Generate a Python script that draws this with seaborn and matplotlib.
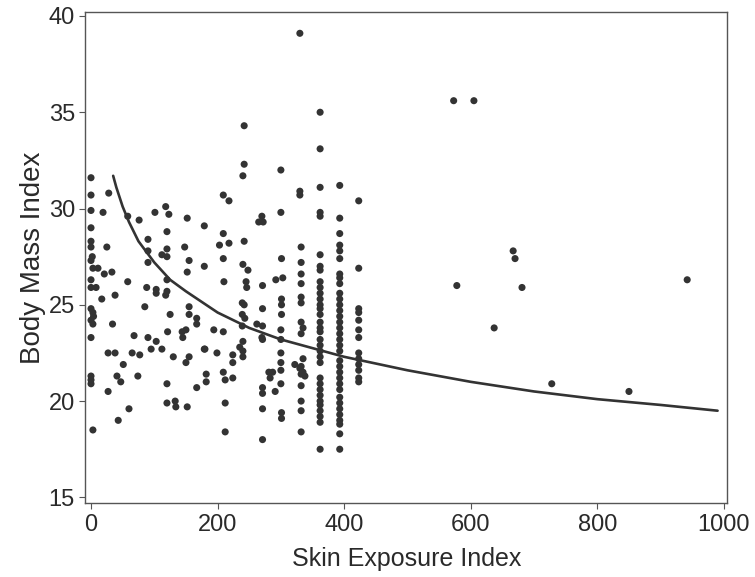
import matplotlib
matplotlib.use('Agg')
import matplotlib.pyplot as plt
import pandas as pd
import seaborn as sns

# Scatter data: skin exposure index vs body mass index
ski = [
    0, 0, 0, 0, 0, 0, 2, 0, 3, 0, 0, 8, 0, 3, 4, 0, 3, 0, 0, 0, 0, 3,
    28, 19, 25, 11, 21, 33, 17, 38, 34, 27, 38, 41, 47, 27, 43, 51, 60,
    58, 76, 90, 101, 118, 123, 120, 152, 148, 179,
    209, 218, 209, 203, 218,
    120, 90, 112, 120, 155, 90, 58, 120, 152, 179,
    88, 103, 103, 120, 118, 85, 155, 125, 155, 167, 167, 68, 90, 103, 121, 144, 150, 145,
    95, 112, 65, 77, 130, 179, 155, 150, 74, 182, 182, 120, 167, 120, 133, 134, 152,
    209, 210, 209, 199, 194, 180, 224, 224, 209, 212, 224, 212, 212,
    242, 242, 240, 242, 240, 248, 245, 246, 239, 242, 239, 243, 239, 240, 235, 240, 240,
    265, 270, 272, 271, 271, 262, 271, 270, 271, 281, 287, 283, 271, 271, 291, 271, 271,
    300, 300, 292, 303, 301, 301, 301, 301, 300, 300, 300, 300, 300, 300, 301, 301,
    322, 330, 335, 338,
    330, 330, 330, 332, 332, 332, 332, 332, 332, 332, 335, 332, 335, 332, 332, 332, 332, 332, 332,
    362, 362, 362, 362, 362, 362, 362, 362,
    362, 362, 362, 362, 362, 362, 362, 362, 362, 362, 362, 362, 362, 362, 362,
    362, 362, 362, 362, 362, 362, 362, 362, 362, 362,
    393, 393, 393, 393, 393, 393, 393, 393, 393, 393, 393, 393,
    393, 393, 393, 393, 393, 393, 393, 393,
    393, 393, 393, 393, 393, 393,
    393, 393, 393, 393, 393, 393, 393, 393,
    423, 423, 423, 423, 423, 423, 423, 423, 423, 423, 423, 423, 423,
    573, 605, 578, 667, 670, 681, 637, 728, 850, 942,
]
bmi = [
    31.6, 30.7, 29.9, 29.0, 28.3, 28.0, 27.5, 27.3, 26.9, 26.3, 25.9, 25.9, 24.8, 24.6, 24.4, 24.2, 24.0, 23.3, 21.3, 21.1, 20.9, 18.5,
    30.8, 29.8, 28.0, 26.9, 26.6, 26.7, 25.3, 25.5, 24.0, 22.5, 22.5, 21.3, 21.0, 20.5, 19.0, 21.9, 19.6,
    29.6, 29.4, 28.4, 29.8, 30.1, 29.7, 28.8, 29.5, 28.0, 29.1,
    30.7, 30.4, 28.7, 28.1, 28.2,
    27.9, 27.8, 27.6, 27.5, 27.3, 27.2, 26.2, 26.3, 26.7, 27.0,
    25.9, 25.8, 25.6, 25.7, 25.5, 24.9, 24.9, 24.5, 24.5, 24.3, 24.0, 23.4, 23.3, 23.1, 23.6, 23.6, 23.7, 23.3,
    22.7, 22.7, 22.5, 22.4, 22.3, 22.7, 22.3, 22.0, 21.3, 21.4, 21.0, 20.9, 20.7, 19.9, 20.0, 19.7, 19.7,
    27.4, 26.2, 23.6, 22.5, 23.7, 22.7, 22.4, 22.0, 21.5, 21.1, 21.2, 19.9, 18.4,
    34.3, 32.3, 31.7, 28.3, 27.1, 26.8, 26.2, 25.9, 25.1, 25.0, 24.5, 24.3, 23.9, 23.1, 22.8, 22.6, 22.3,
    29.3, 29.6, 29.3, 26.0, 24.8, 24.0, 23.9, 23.3, 23.2, 21.5, 21.5, 21.2, 20.7, 20.4, 20.5, 19.6, 18.0,
    32.0, 29.8, 26.3, 26.4, 27.4, 25.3, 25.0, 24.5, 23.7, 23.2, 22.5, 22.0, 21.6, 20.9, 19.4, 19.1,
    21.9, 21.7, 21.5, 21.3,
    39.1, 30.9, 30.7, 28.0, 27.2, 26.6, 26.1, 25.4, 25.1, 24.1, 23.8, 23.5, 22.2, 21.8, 21.4, 20.8, 20.0, 19.5, 18.4,
    35.0, 33.1, 31.1, 29.8, 29.6, 27.6, 27.0, 26.8,
    26.2, 25.9, 25.6, 25.3, 25.0, 24.8, 24.5, 24.1, 23.8, 23.6, 23.2, 22.9, 22.6, 22.3, 22.0,
    21.2, 20.9, 20.6, 20.3, 20.0, 19.8, 19.5, 19.2, 18.9, 17.5,
    31.2, 29.5, 28.7, 28.1, 27.8, 27.4, 26.6, 26.4, 26.1, 25.6, 25.3, 25.0,
    24.7, 24.4, 24.1, 23.8, 23.5, 23.2, 22.9, 22.6,
    22.1, 21.8, 21.5, 21.2, 20.9, 20.6,
    20.2, 19.9, 19.6, 19.3, 19.0, 18.8, 18.3, 17.5,
    30.4, 26.9, 24.8, 24.6, 24.2, 23.7, 23.3, 22.5, 22.2, 21.9, 21.6, 21.2, 21.0,
    35.6, 35.6, 26.0, 27.8, 27.4, 25.9, 23.8, 20.9, 20.5, 26.3,
]

# Fitted curve, values
fit_x = [35, 40, 50, 60, 75, 100, 125, 150, 200, 250, 300, 400, 500, 600, 700, 800, 900, 990]
fit_y = [31.7, 31.1, 30.1, 29.3, 28.3, 27.2, 26.3, 25.7, 24.6, 23.8, 23.2, 22.3, 21.6, 21.0, 20.5, 20.1, 19.8, 19.5]

x_ticks = [0, 200, 400, 600, 800, 1000]
y_ticks = [15, 20, 25, 30, 35, 40]

df = pd.DataFrame({'ski': ski, 'bmi': bmi})
fit = pd.DataFrame({'x': fit_x, 'y': fit_y})

sns.set_style('ticks')
plt.rcParams['font.family'] = ['Liberation Sans', 'DejaVu Sans']

fig = plt.figure(figsize=(7.55, 5.77), dpi=100)
ax = fig.add_axes([0.113, 0.128, 0.85, 0.851])

sns.scatterplot(x='ski', y='bmi', data=df, ax=ax, color='#333333', s=26,
                edgecolor='none', linewidth=0)
sns.lineplot(x='x', y='y', data=fit, ax=ax, color='#333333', linewidth=1.9)

ax.set_xlim(-9, 1005)
ax.set_ylim(14.7, 40.2)
ax.set_xticks(x_ticks)
ax.set_yticks(y_ticks)
ax.tick_params(labelsize=17, length=4, color='#555555', labelcolor='#2a2a2a')
ax.set_xlabel('Skin Exposure Index', fontsize=18, color='#2a2a2a', labelpad=8)
ax.set_ylabel('Body Mass Index', fontsize=20, color='#2a2a2a', labelpad=2)
for sp in ax.spines.values():
    sp.set_color('#555555')
    sp.set_linewidth(1)

fig.savefig('out.png', dpi=100)
